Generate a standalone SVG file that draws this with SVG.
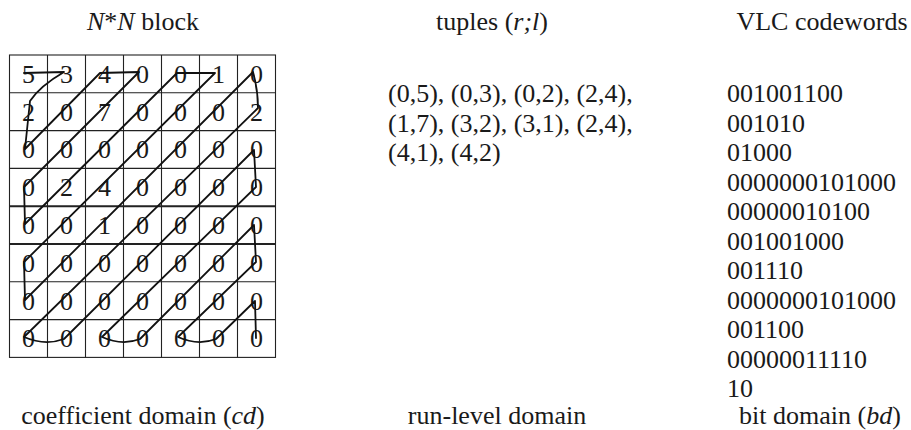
<svg xmlns="http://www.w3.org/2000/svg" width="911" height="430" viewBox="0 0 911 430">
<style>
text{font-family:"Liberation Serif","Times New Roman",serif;font-size:26px;fill:#1a1a1a}
.c{text-anchor:middle}
.g{stroke:#222;stroke-width:1.1;fill:none}
.gt{stroke:#222;stroke-width:2;fill:none}
.z{stroke:#111;stroke-width:1.8;fill:none;stroke-linejoin:round;stroke-linecap:round}
</style>
<rect width="911" height="430" fill="#fff"/>
<g id="headers">
<text class="c" x="143" y="30"><tspan font-style="italic">N</tspan>*<tspan font-style="italic">N</tspan> block</text>
<text class="c" x="492" y="30">tuples (<tspan font-style="italic">r;l</tspan>)</text>
<text class="c" x="822" y="30">VLC codewords</text>
</g>
<g id="block">
<rect class="g" x="9.5" y="55" width="266" height="302.4"/>
<path class="g" d="M47.5 55V357.4M85.5 55V357.4M123.5 55V357.4M161.5 55V357.4M199.5 55V357.4M237.5 55V357.4M9.5 92.8H275.5M9.5 130.6H275.5M9.5 168.4H275.5M9.5 281.8H275.5M9.5 319.6H275.5"/>
<path class="gt" d="M9.5 206.2H275.5M9.5 244H275.5"/>
<g class="c">
<text x="28.5" y="82.8">5</text><text x="66.5" y="82.8">3</text><text x="104.5" y="82.8">4</text><text x="142.5" y="82.8">0</text><text x="180.5" y="82.8">0</text><text x="218.5" y="82.8">1</text><text x="256.5" y="82.8">0</text>
<text x="28.5" y="120.6">2</text><text x="66.5" y="120.6">0</text><text x="104.5" y="120.6">7</text><text x="142.5" y="120.6">0</text><text x="180.5" y="120.6">0</text><text x="218.5" y="120.6">0</text><text x="256.5" y="120.6">2</text>
<text x="28.5" y="158.4">0</text><text x="66.5" y="158.4">0</text><text x="104.5" y="158.4">0</text><text x="142.5" y="158.4">0</text><text x="180.5" y="158.4">0</text><text x="218.5" y="158.4">0</text><text x="256.5" y="158.4">0</text>
<text x="28.5" y="196.2">0</text><text x="66.5" y="196.2">2</text><text x="104.5" y="196.2">4</text><text x="142.5" y="196.2">0</text><text x="180.5" y="196.2">0</text><text x="218.5" y="196.2">0</text><text x="256.5" y="196.2">0</text>
<text x="28.5" y="234">0</text><text x="66.5" y="234">0</text><text x="104.5" y="234">1</text><text x="142.5" y="234">0</text><text x="180.5" y="234">0</text><text x="218.5" y="234">0</text><text x="256.5" y="234">0</text>
<text x="28.5" y="271.8">0</text><text x="66.5" y="271.8">0</text><text x="104.5" y="271.8">0</text><text x="142.5" y="271.8">0</text><text x="180.5" y="271.8">0</text><text x="218.5" y="271.8">0</text><text x="256.5" y="271.8">0</text>
<text x="28.5" y="309.6">0</text><text x="66.5" y="309.6">0</text><text x="104.5" y="309.6">0</text><text x="142.5" y="309.6">0</text><text x="180.5" y="309.6">0</text><text x="218.5" y="309.6">0</text><text x="256.5" y="309.6">0</text>
<text x="28.5" y="347.4">0</text><text x="66.5" y="347.4">0</text><text x="104.5" y="347.4">0</text><text x="142.5" y="347.4">0</text><text x="180.5" y="347.4">0</text><text x="218.5" y="347.4">0</text><text x="256.5" y="347.4">0</text>
</g>
</g>
<g id="connectors">
<path class="z" d="M24 73 L64 72 Q40 86 30 101 L25 149 L100 73 L139 72 L24 187 L25 224 L177 73 L215 73 L24 262 L25 300 L253 72 Q258 90 258 108 L24 337 Q45 346 64 339 L254 150 L256 187 L102 337 Q122 346 140 339 L254 225 L256 262 L178 337 Q198 346 216 339 L255 301 L256 338"/>
</g>
<g id="tuples">
<text x="388" y="102">(0,5), (0,3), (0,2), (2,4),</text>
<text x="388" y="131.5">(1,7), (3,2), (3,1), (2,4),</text>
<text x="388" y="161">(4,1), (4,2)</text>
</g>
<g id="codewords">
<text x="727" y="102">001001100</text>
<text x="727" y="131.5">001010</text>
<text x="727" y="161">01000</text>
<text x="727" y="190.5">0000000101000</text>
<text x="727" y="220">00000010100</text>
<text x="727" y="249.5">001001000</text>
<text x="727" y="279">001110</text>
<text x="727" y="308.5">0000000101000</text>
<text x="727" y="338">001100</text>
<text x="727" y="367.5">00000011110</text>
<text x="727" y="397">10</text>
</g>
<g id="labels">
<text class="c" x="143" y="424">coefficient domain (<tspan font-style="italic">cd</tspan>)</text>
<text class="c" x="497" y="424">run-level domain</text>
<text class="c" x="820" y="424">bit domain (<tspan font-style="italic">bd</tspan>)</text>
</g>
</svg>
